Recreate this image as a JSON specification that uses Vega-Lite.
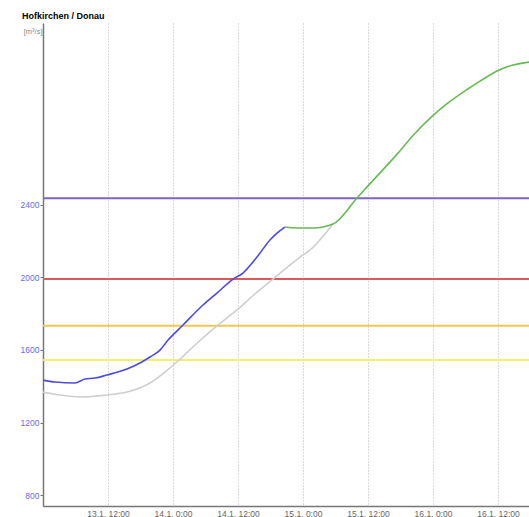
{
  "$schema": "https://vega.github.io/schema/vega-lite/v6.json",
  "width": 486,
  "height": 483,
  "autosize": "none",
  "padding": {"left": 43, "top": 23, "right": 0, "bottom": 11},
  "background": "white",
  "config": {
    "font": "Liberation Sans",
    "view": {"stroke": null}
  },
  "title": {
    "text": "Hofkirchen / Donau",
    "anchor": "start",
    "frame": "group",
    "font": "Liberation Sans",
    "fontSize": 9,
    "fontWeight": "bold",
    "color": "#000000",
    "baseline": "middle",
    "offset": 7,
    "dx": -21,
    "dy": 8.5
  },
  "datasets": {
    "levels": [
      {"level": "HW4", "q": 2434},
      {"level": "HW3", "q": 1990},
      {"level": "HW2", "q": 1733},
      {"level": "HW1", "q": 1545}
    ],
    "flow": [
      {"series": "Vorhersage ohne", "t": "2011-01-13 00:00", "q": 1368},
      {"series": "Vorhersage ohne", "t": "2011-01-13 03:08", "q": 1352},
      {"series": "Vorhersage ohne", "t": "2011-01-13 06:50", "q": 1341},
      {"series": "Vorhersage ohne", "t": "2011-01-13 11:49", "q": 1352},
      {"series": "Vorhersage ohne", "t": "2011-01-13 15:30", "q": 1368},
      {"series": "Vorhersage ohne", "t": "2011-01-13 19:45", "q": 1418},
      {"series": "Vorhersage ohne", "t": "2011-01-13 22:31", "q": 1478},
      {"series": "Vorhersage ohne", "t": "2011-01-14 00:55", "q": 1539},
      {"series": "Vorhersage ohne", "t": "2011-01-14 04:04", "q": 1627},
      {"series": "Vorhersage ohne", "t": "2011-01-14 08:07", "q": 1732},
      {"series": "Vorhersage ohne", "t": "2011-01-14 11:49", "q": 1820},
      {"series": "Vorhersage ohne", "t": "2011-01-14 15:08", "q": 1908},
      {"series": "Vorhersage ohne", "t": "2011-01-14 18:28", "q": 1990},
      {"series": "Vorhersage ohne", "t": "2011-01-14 23:27", "q": 2111},
      {"series": "Vorhersage ohne", "t": "2011-01-15 01:18", "q": 2150},
      {"series": "Vorhersage ohne", "t": "2011-01-15 05:32", "q": 2293},

      {"series": "Messwerte", "t": "2011-01-13 00:00", "q": 1434},
      {"series": "Messwerte", "t": "2011-01-13 02:13", "q": 1423},
      {"series": "Messwerte", "t": "2011-01-13 05:54", "q": 1418},
      {"series": "Messwerte", "t": "2011-01-13 07:45", "q": 1440},
      {"series": "Messwerte", "t": "2011-01-13 09:36", "q": 1445},
      {"series": "Messwerte", "t": "2011-01-13 11:49", "q": 1462},
      {"series": "Messwerte", "t": "2011-01-13 15:30", "q": 1495},
      {"series": "Messwerte", "t": "2011-01-13 17:54", "q": 1528},
      {"series": "Messwerte", "t": "2011-01-13 19:45", "q": 1561},
      {"series": "Messwerte", "t": "2011-01-13 21:36", "q": 1599},
      {"series": "Messwerte", "t": "2011-01-13 23:05", "q": 1654},
      {"series": "Messwerte", "t": "2011-01-14 01:51", "q": 1737},
      {"series": "Messwerte", "t": "2011-01-14 05:32", "q": 1847},
      {"series": "Messwerte", "t": "2011-01-14 08:07", "q": 1913},
      {"series": "Messwerte", "t": "2011-01-14 11:05", "q": 1990},
      {"series": "Messwerte", "t": "2011-01-14 12:55", "q": 2023},
      {"series": "Messwerte", "t": "2011-01-14 15:30", "q": 2111},
      {"series": "Messwerte", "t": "2011-01-14 17:54", "q": 2205},
      {"series": "Messwerte", "t": "2011-01-14 19:12", "q": 2243},
      {"series": "Messwerte", "t": "2011-01-14 20:41", "q": 2276},

      {"series": "Vorhersage", "t": "2011-01-14 20:41", "q": 2276},
      {"series": "Vorhersage", "t": "2011-01-14 22:54", "q": 2271},
      {"series": "Vorhersage", "t": "2011-01-15 01:51", "q": 2271},
      {"series": "Vorhersage", "t": "2011-01-15 05:32", "q": 2293},
      {"series": "Vorhersage", "t": "2011-01-15 09:58", "q": 2436},
      {"series": "Vorhersage", "t": "2011-01-15 11:49", "q": 2497},
      {"series": "Vorhersage", "t": "2011-01-15 14:13", "q": 2574},
      {"series": "Vorhersage", "t": "2011-01-15 17:32", "q": 2683},
      {"series": "Vorhersage", "t": "2011-01-15 20:18", "q": 2780},
      {"series": "Vorhersage", "t": "2011-01-15 23:49", "q": 2885},
      {"series": "Vorhersage", "t": "2011-01-16 02:35", "q": 2955},
      {"series": "Vorhersage", "t": "2011-01-16 06:17", "q": 3033},
      {"series": "Vorhersage", "t": "2011-01-16 08:41", "q": 3079},
      {"series": "Vorhersage", "t": "2011-01-16 11:49", "q": 3135},
      {"series": "Vorhersage", "t": "2011-01-16 14:46", "q": 3168},
      {"series": "Vorhersage", "t": "2011-01-16 17:43", "q": 3184}
    ]
  },
  "layer": [
    {
      "data": {"name": "levels"},
      "mark": {"type": "rule", "strokeWidth": 2},
      "encoding": {
        "y": {
          "field": "q",
          "type": "quantitative",
          "scale": {"domain": [741, 3399], "nice": false, "zero": false},
          "axis": {
            "values": [800, 1200, 1600, 2000, 2400],
            "format": "d",
            "grid": false,
            "domainColor": "#777777",
            "domainWidth": 1.5,
            "tickColor": "#777777",
            "tickSize": 3,
            "labelColor": "#6b6bea",
            "labelFont": "Liberation Sans",
            "labelFontSize": 8.5,
            "labelPadding": 1,
            "title": "[m³/s]",
            "titleAngle": 0,
            "titleAlign": "right",
            "titleBaseline": "middle",
            "titleX": -1,
            "titleY": 8,
            "titleFont": "Liberation Sans",
            "titleFontSize": 7.5,
            "titleFontWeight": "normal",
            "titleColor": "#888888"
          }
        },
        "color": {
          "field": "level",
          "type": "nominal",
          "scale": {
            "domain": ["HW4", "HW3", "HW2", "HW1"],
            "range": ["#7d62c8", "#de5a5a", "#f2c84a", "#f6ef6a"]
          },
          "legend": null
        }
      }
    },
    {
      "data": {"name": "flow"},
      "mark": {"type": "line", "strokeWidth": 1.6, "interpolate": "monotone", "clip": true},
      "encoding": {
        "x": {
          "field": "t",
          "type": "temporal",
          "scale": {"domain": [{"year": 2011, "month": 1, "date": 13, "hours": 0}, {"year": 2011, "month": 1, "date": 16, "hours": 17, "minutes": 43}]},
          "axis": {
            "values": [
              {"year": 2011, "month": 1, "date": 13, "hours": 12},
              {"year": 2011, "month": 1, "date": 14, "hours": 0},
              {"year": 2011, "month": 1, "date": 14, "hours": 12},
              {"year": 2011, "month": 1, "date": 15, "hours": 0},
              {"year": 2011, "month": 1, "date": 15, "hours": 12},
              {"year": 2011, "month": 1, "date": 16, "hours": 0},
              {"year": 2011, "month": 1, "date": 16, "hours": 12}
            ],
            "format": "%-d.%-m. %-H:%M",
            "grid": true,
            "gridColor": "#b5b5b5",
            "gridDash": [1, 2],
            "gridWidth": 1,
            "domainColor": "#777777",
            "domainWidth": 1.5,
            "ticks": false,
            "labelColor": "#666666",
            "labelFont": "Liberation Sans",
            "labelFontSize": 8.5,
            "labelPadding": 3,
            "labelFlush": false,
            "title": null
          }
        },
        "y": {"field": "q", "type": "quantitative"},
        "color": {
          "field": "series",
          "type": "nominal",
          "scale": {
            "domain": ["Vorhersage ohne", "Messwerte", "Vorhersage"],
            "range": ["#cfcfcf", "#4b4be0", "#66bb55"]
          },
          "legend": null
        }
      }
    }
  ],
  "resolve": {"scale": {"color": "independent"}}
}
